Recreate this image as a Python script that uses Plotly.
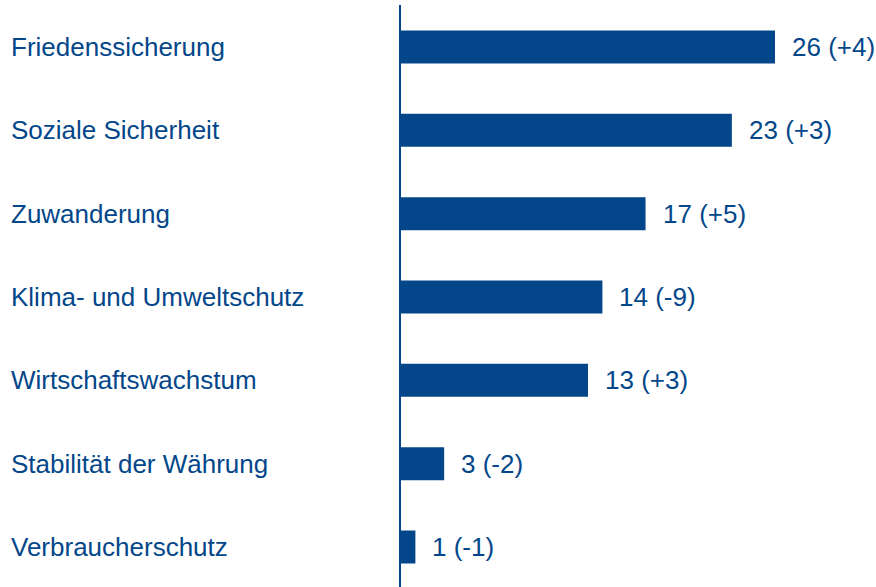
import plotly.graph_objects as go

categories = ["Friedenssicherung", "Soziale Sicherheit", "Zuwanderung",
              "Klima- und Umweltschutz", "Wirtschaftswachstum",
              "Stabilität der Währung", "Verbraucherschutz"]
values = [26, 23, 17, 14, 13, 3, 1]
changes = ["+4", "+3", "+5", "-9", "+3", "-2", "-1"]

NAVY = "#03478A"
FONT = "Liberation Sans, Arial, sans-serif"
FS = 26

ypos = list(range(len(categories)))

fig = go.Figure()
fig.add_trace(go.Bar(
    x=values, y=ypos, orientation="h",
    marker=dict(color=NAVY, line=dict(width=0)),
    width=0.396, hoverinfo="skip",
))

annotations = []
for i, (c, v, d) in enumerate(zip(categories, values, changes)):
    annotations.append(dict(
        x=-392 / 475, xref="paper", y=i, yref="y", text=c, showarrow=False,
        xanchor="left", yanchor="middle", font=dict(family=FONT, size=FS, color=NAVY)))
    annotations.append(dict(
        x=v, xref="x", y=i, yref="y", text=f"{v} ({d})", showarrow=False,
        xanchor="left", yanchor="middle", xshift=15,
        font=dict(family=FONT, size=FS, color=NAVY)))

fig.update_layout(
    width=876, height=587,
    margin=dict(l=401, r=0, t=5, b=0),
    paper_bgcolor="white", plot_bgcolor="white",
    showlegend=False,
    annotations=annotations,
    xaxis=dict(range=[0, 475 / 14.385], visible=False, showgrid=False, zeroline=False),
    yaxis=dict(range=[6.48, -0.504], showgrid=False, zeroline=False, showticklabels=False,
               showline=True, linecolor=NAVY, linewidth=2, ticks=""),
)

fig.write_html("out.html", config={"displayModeBar": False},
               post_script="document.body.style.margin='0';document.body.style.overflow='hidden';")
